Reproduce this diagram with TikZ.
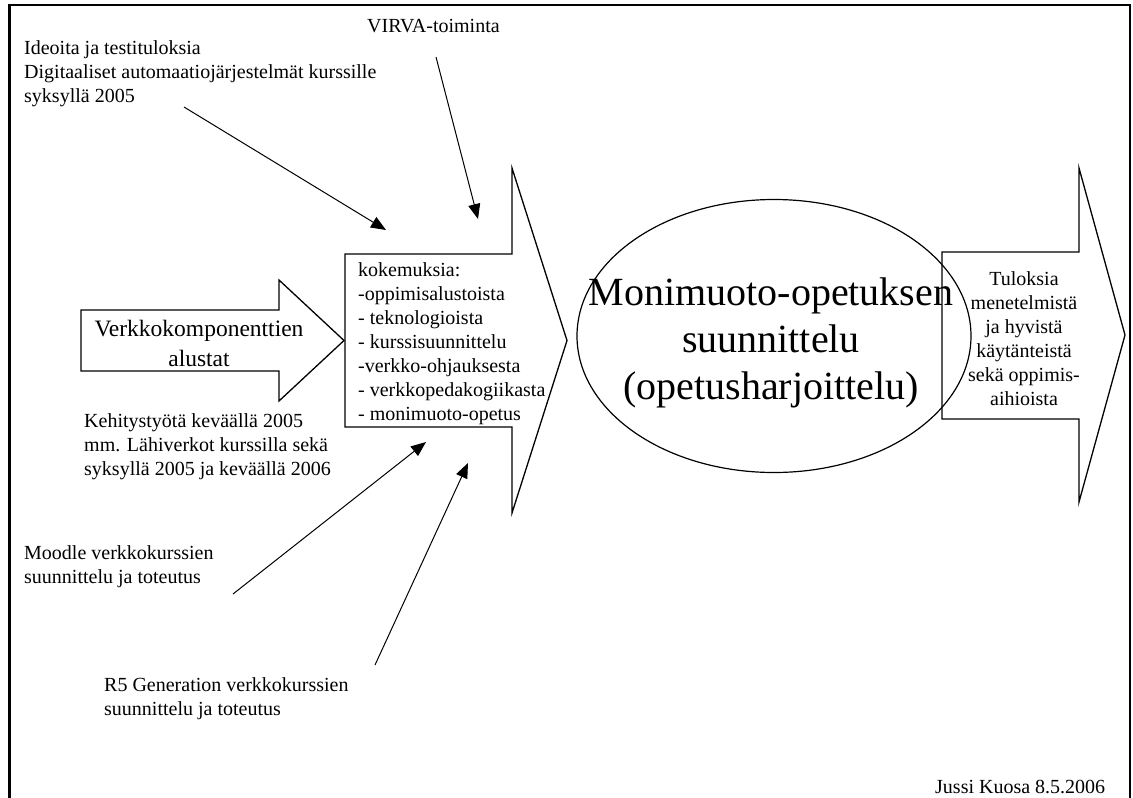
\documentclass[tikz,border=0pt]{standalone}
\usepackage{fontspec}
\setmainfont{Liberation Serif}
\usetikzlibrary{arrows.meta,shapes.geometric}
\begin{document}
\begin{tikzpicture}[x=1pt, y=-1pt,
		note/.style={font=\fontsize{20}{24}\selectfont, align=left, inner sep=0pt, anchor=north west},
		block/.style={draw, line width=1.3pt, line join=miter},
		feed/.style={-{Triangle[length=15pt, width=12pt]}, line width=1pt}]
	\useasboundingbox (0,0) rectangle (1133,798);
	\draw[line width=2.2pt] (9.5,798) -- (9.5,5) -- (1130,5) -- (1130,798);

	\draw[block] (81,310) -- (279,310) -- (279,280) -- (344,340.5) -- (279,401) -- (279,371) -- (81,371) -- cycle;
	\node (Platforms) [inner sep=0pt, align=center, font=\fontsize{23.5}{30}\selectfont] at (199, 343) {Verkkokomponenttien\\alustat};

	\draw[block] (345,254) -- (512,254) -- (512,168) -- (567,340.5) -- (512,513) -- (512,427) -- (345,427) -- cycle;
	\node (Experience) [note] at (358, 262) {kokemuksia:\\-oppimisalustoista\\- teknologioista\\- kurssisuunnittelu\\-verkko-ohjauksesta\\- verkkopedakogiikasta\\- monimuoto-opetus};

	\node (Design) [ellipse, draw, line width=1.2pt, minimum width=394pt, minimum height=273pt, inner sep=0pt] at (774, 336) {};
	\node (DesignText) [inner sep=0pt, align=center, font=\fontsize{40}{47}\selectfont] at (771, 343) {Monimuoto-opetuksen\\suunnittelu\\(opetusharjoittelu)};

	\draw[block] (942,252) -- (1079,252) -- (1079,168) -- (1125,335) -- (1079,502) -- (1079,419) -- (942,419) -- cycle;
	\node (Results) [inner sep=0pt, align=center, font=\fontsize{20}{24}\selectfont] at (1024, 339) {Tuloksia\\menetelmistä\\ja hyvistä\\käytänteistä\\sekä oppimis-\\aihioista};

	\node (Ideas) [note] at (24, 40) {Ideoita ja testituloksia\\Digitaaliset automaatiojärjestelmät kurssille\\syksyllä 2005};
	\coordinate (IdeasFrom) at (184, 107);
	\coordinate (IdeasTo) at (386, 230);
	\draw[feed] (IdeasFrom) -- (IdeasTo);

	\node (Virva) [note] at (367, 19) {VIRVA-toiminta};
	\coordinate (VirvaFrom) at (436, 57);
	\coordinate (VirvaTo) at (478, 219);
	\draw[feed] (VirvaFrom) -- (VirvaTo);

	\node (Devel) [note] at (84, 413) {Kehitystyötä keväällä 2005\\mm. Lähiverkot kurssilla sekä\\syksyllä 2005 ja keväällä 2006};

	\node (Moodle) [note] at (24, 545) {Moodle verkkokurssien\\suunnittelu ja toteutus};
	\coordinate (MoodleFrom) at (233, 594);
	\coordinate (MoodleTo) at (426, 442);
	\draw[feed] (MoodleFrom) -- (MoodleTo);

	\node (Rfive) [note] at (104, 677) {R5 Generation verkkokurssien\\suunnittelu ja toteutus};
	\coordinate (RfiveFrom) at (375, 665);
	\coordinate (RfiveTo) at (468, 463);
	\draw[feed] (RfiveFrom) -- (RfiveTo);

	\node (Author) [inner sep=0pt, anchor=base west, font=\fontsize{20}{24}\selectfont] at (935, 793) {Jussi Kuosa 8.5.2006};
\end{tikzpicture}
\end{document}
